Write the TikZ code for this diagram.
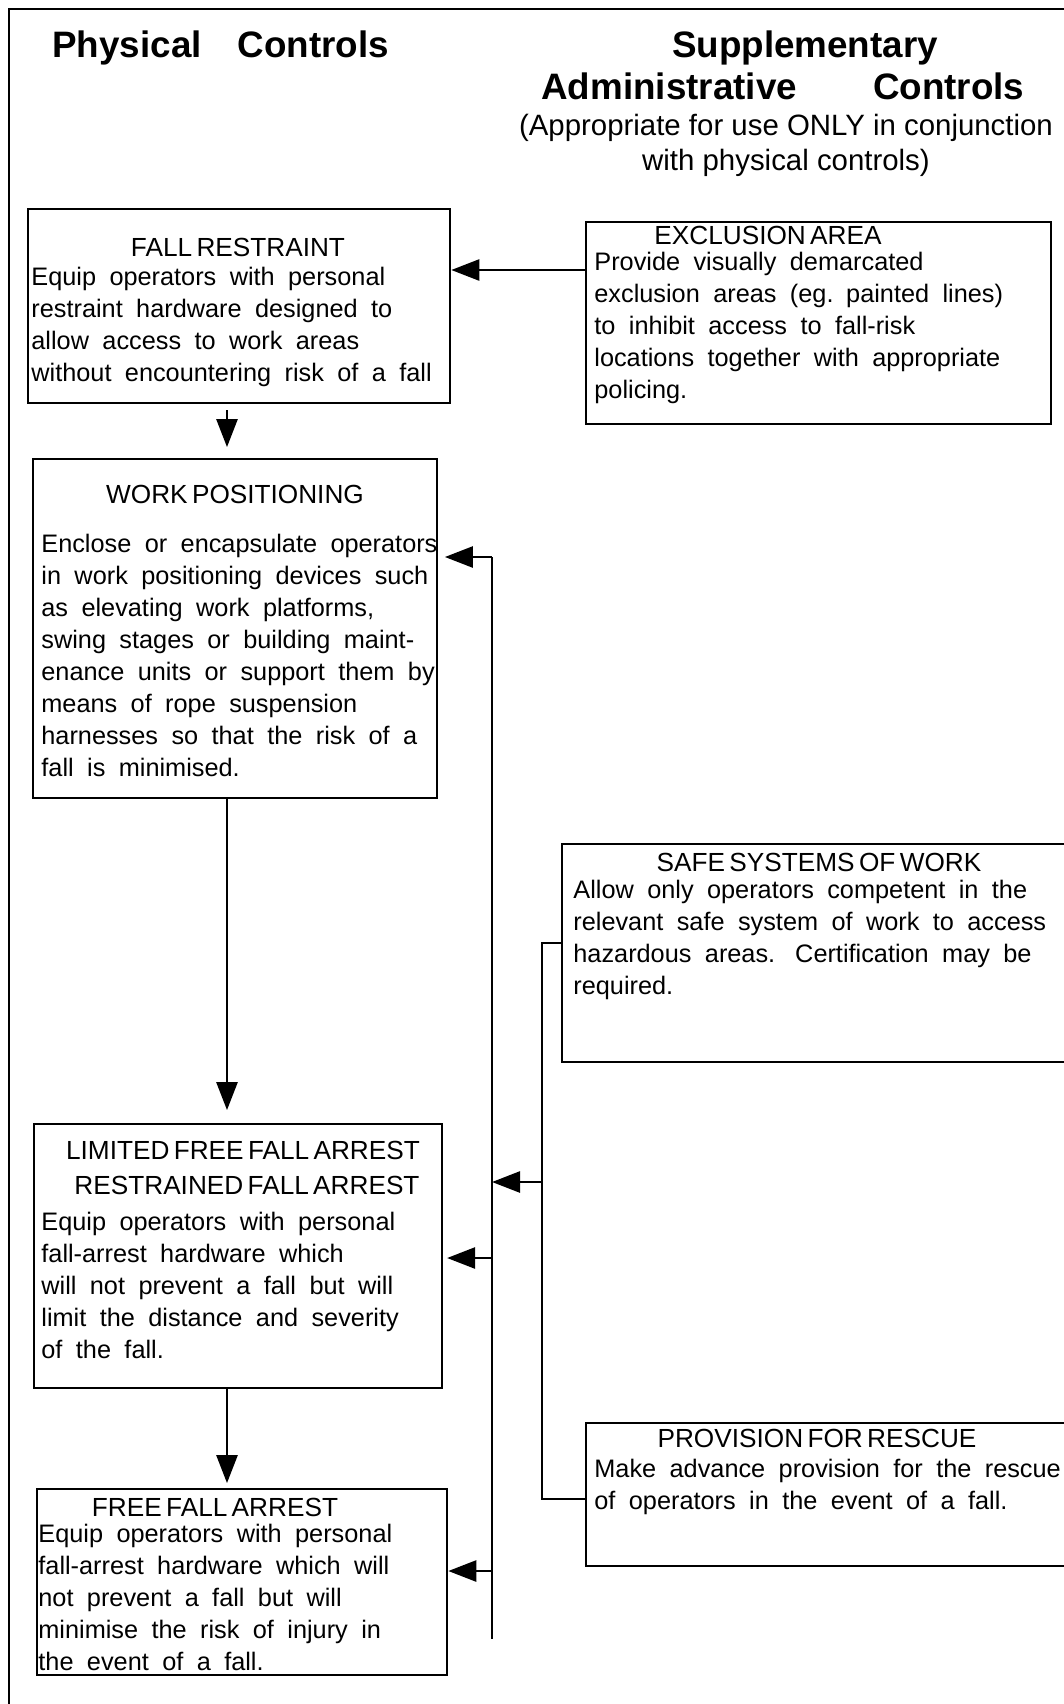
\documentclass[tikz,border=0pt]{standalone}
\usepackage{fontspec}
\setmainfont{Liberation Sans}
\newfontfamily\headfont{Liberation Sans}[WordSpace=0.6]
\usetikzlibrary{arrows.meta,fit}
\tikzset{
  box/.style={draw, line width=1.3pt, inner sep=0pt},
  link/.style={line width=1.3pt},
  arr/.style={link, -{Triangle[length=14pt,width=10.5pt]}},
  title/.style={anchor=base, inner sep=0pt, font=\headfont\fontsize{13.1}{15}\selectfont},
  body/.style={anchor=base west, inner sep=0pt, text width=270pt,
    font=\fontsize{12.65}{16}\selectfont,
    execute at begin node={\spaceskip=0.53em plus 0.1em\relax}},
  big/.style={inner sep=0pt, font=\bfseries\fontsize{18.4}{22}\selectfont},
  note/.style={anchor=base, inner sep=0pt, font=\fontsize{14.7}{17}\selectfont},
}
\begin{document}
\begin{tikzpicture}[x=0.5pt,y=-0.5pt]
\useasboundingbox (0,0) rectangle (1064,1704);
% frame (runs off the page right and bottom)
\draw[link] (9,1720) -- (9,9) -- (1080,9);

% column headings
\node[big, anchor=base west] (phys) at (52,57) {Physical\hspace{18pt}Controls};
\node[big, anchor=base] (supp) at (805,57) {Supplementary};
\node[big, anchor=base west] (admin) at (541,99) {Administrative\hspace{38pt}Controls};
\node[note] (appr) at (786,135) {(Appropriate for use ONLY in conjunction};
\node[note] (withp) at (786,170) {with physical controls)};

% physical controls
\node[box, fit={(28,209) (450,403)}] (fr) {};
\node[title] (frT) at (238,256) {FALL RESTRAINT};
\node[body] (frB) at (31,285) {Equip operators with personal\\
restraint hardware designed to\\
allow access to work areas\\
without encountering risk of a fall};

\node[box, fit={(33,459) (437,798)}] (wp) {};
\node[title] (wpT) at (235,503) {WORK POSITIONING};
\node[body] (wpB) at (41,552) {Enclose or encapsulate operators\\
in work positioning devices such\\
as elevating work platforms,\\
swing stages or building maint-\\
enance units or support them by\\
means of rope suspension\\
harnesses so that the risk of a\\
fall is minimised.};

\node[box, fit={(34,1124) (442,1388)}] (lf) {};
\node[title] (lfT) at (243,1159) {LIMITED FREE FALL ARREST};
\node[title] (lfS) at (247,1194) {RESTRAINED FALL ARREST};
\node[body] (lfB) at (41,1230) {Equip operators with personal\\
fall-arrest hardware which\\
will not prevent a fall but will\\
limit the distance and severity\\
of the fall.};

\node[box, fit={(37,1489) (447,1675)}] (ff) {};
\node[title] (ffT) at (215,1516) {FREE FALL ARREST};
\node[body] (ffB) at (38,1542) {Equip operators with personal\\
fall-arrest hardware which will\\
not prevent a fall but will\\
minimise the risk of injury in\\
the event of a fall.};

% administrative controls
\node[box, fit={(586,222) (1051,424)}] (ex) {};
\node[title] (exT) at (768,244) {EXCLUSION AREA};
\node[body] (exB) at (594,270) {Provide visually demarcated\\
exclusion areas (eg. painted lines)\\
to inhibit access to fall-risk\\
locations together with appropriate\\
policing.};

\node[box, fit={(562,844) (1090,1062)}] (ss) {};
\node[title] (ssT) at (819,871) {SAFE SYSTEMS OF WORK};
\node[body] (ssB) at (573,898) {Allow only operators competent in the\\
relevant safe system of work to access\\
hazardous areas.\hspace{10pt}Certification may be\\
required.};

\node[box, fit={(586,1423) (1090,1566)}] (pr) {};
\node[title] (prT) at (817,1447) {PROVISION FOR RESCUE};
\node[body] (prB) at (594,1477) {Make advance provision for the rescue\\
of operators in the event of a fall.};

% arrows down the physical side
\coordinate (spine) at (227,0);
\draw[arr, shorten <=3pt, shorten >=5.3pt] (fr.south -| spine) -- (wp.north -| spine);
\draw[arr, shorten >=6.3pt] (wp.south -| spine) -- (lf.north -| spine);
\draw[arr, shorten >=2.3pt] (lf.south -| spine) -- (ff.north -| spine);

\draw[arr] (ex.west |- 0,270) -- (fr.east |- 0,270);

% feed lines
\coordinate (b1top) at (492,557);
\coordinate (b1bot) at (492,1639);
\coordinate (b1lf) at (492,1258);
\coordinate (b1ff) at (492,1571);
\draw[link] (b1top) -- (b1bot);
\draw[arr, shorten >=3.3pt] (b1top) -- (wp.east |- b1top);
\draw[arr, shorten >=1.9pt] (b1lf) -- (lf.east |- b1lf);
\draw[arr] (b1ff) -- (ff.east |- b1ff);

\coordinate (b2top) at (542,943);
\coordinate (b2bot) at (542,1499);
\coordinate (b2mid) at (542,1182);
\draw[link] (ss.west |- b2top) -- (b2top) -- (b2bot) -- (pr.west |- b2bot);
\draw[arr] (b2mid) -- (b1top |- b2mid);
\end{tikzpicture}
\end{document}
